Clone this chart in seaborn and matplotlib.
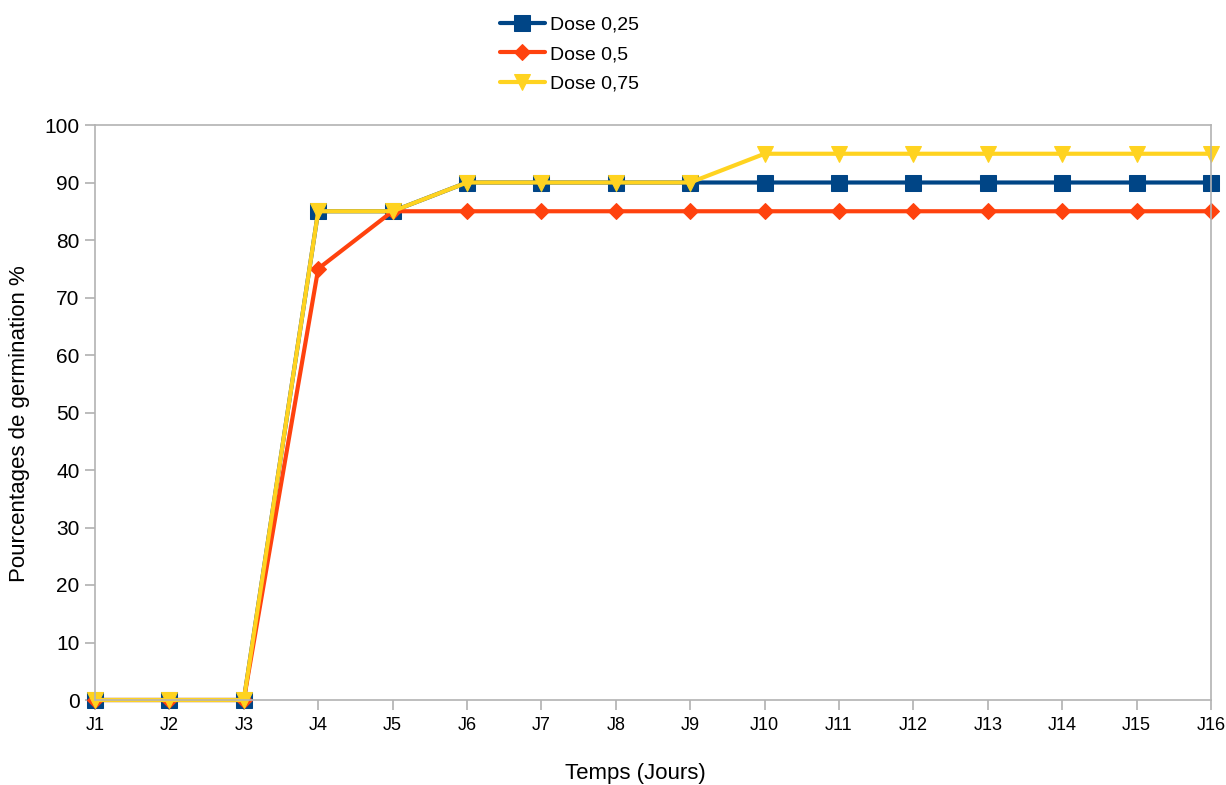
import matplotlib
matplotlib.use("Agg")
import matplotlib.pyplot as plt
import seaborn as sns
import pandas as pd
import numpy as np

days = ["J1","J2","J3","J4","J5","J6","J7","J8","J9","J10","J11","J12","J13","J14","J15","J16"]
dose_025 = [0,0,0,85,85,90,90,90,90,90,90,90,90,90,90,90]
dose_05  = [0,0,0,75,85,85,85,85,85,85,85,85,85,85,85,85]
dose_075 = [0,0,0,85,85,90,90,90,90,95,95,95,95,95,95,95]
series_names = ["Dose 0,25", "Dose 0,5", "Dose 0,75"]
colors = ["#004586", "#ff420e", "#ffd320"]
markers = ["s", "D", "v"]
msizes = [11, 8.5, 11.5]

sns.set_theme(style="white")
plt.rcParams['font.family'] = ['Liberation Sans', 'DejaVu Sans']
plt.rcParams['text.color'] = 'black'
plt.rcParams['axes.labelcolor'] = 'black'
plt.rcParams['xtick.color'] = 'black'
plt.rcParams['ytick.color'] = 'black'

fig = plt.figure(figsize=(12.26, 7.85), dpi=100)
ax = fig.add_axes([95/1226, 1-700/785, (1211-95)/1226, (700-125)/785])

x = np.arange(len(days))
for name, vals, c, m, ms in zip(series_names, [dose_025, dose_05, dose_075], colors, markers, msizes):
    sns.lineplot(x=x, y=vals, ax=ax, color=c, marker=m, markersize=ms, linewidth=3,
                 markeredgecolor=c, label=name, legend=False, clip_on=False)

ax.set_xlim(0, len(days)-1)
ax.set_ylim(0, 100)
ax.set_xticks(x)
ax.set_xticklabels(days, fontsize=13)
ax.set_yticks(range(0, 101, 10))
ax.tick_params(axis='y', labelsize=15, length=7, color="#b3b3b3", labelcolor='black', direction='out', left=True, pad=4)
ax.tick_params(axis='x', length=7, color="#b3b3b3", labelcolor='black', direction='out', bottom=True, pad=5)
for s in ax.spines.values():
    s.set_color("#b3b3b3")
    s.set_linewidth(1.2)
ax.grid(False)
ax.set_xlabel("Temps (Jours)", fontsize=16, color='black')
ax.set_ylabel("Pourcentages de germination %", fontsize=16, color='black')
ax.xaxis.set_label_coords((635-95)/1116, -(773-700)/575)
ax.yaxis.set_label_coords(-(95-20)/1116, (700-424)/575)
ax.xaxis.label.set_va('center')
ax.yaxis.label.set_va('center')

handles, labels = ax.get_legend_handles_labels()
fig.legend(handles, labels, loc='upper left', bbox_to_anchor=(500/1226, 1-16/785),
           frameon=False, fontsize=14, handlelength=2.3, labelspacing=0.62, handletextpad=0.25,
           borderpad=0, borderaxespad=0)

fig.savefig("out.png", dpi=100)
